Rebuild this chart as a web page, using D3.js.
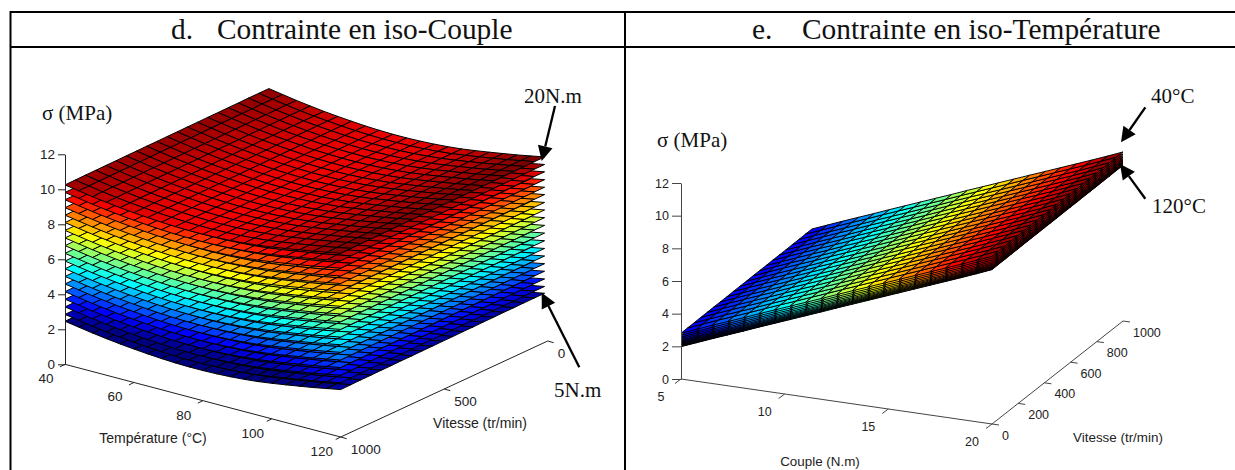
<!DOCTYPE html>
<html><head><meta charset="utf-8">
<style>html,body{margin:0;padding:0;background:#fff}svg{display:block}</style>
<script src="https://cdnjs.cloudflare.com/ajax/libs/d3/7.8.5/d3.min.js"></script>
</head><body><div id="chart"></div>
<script>
// ---------- data ----------
const zTicks = [0, 2, 4, 6, 8, 10, 12];
const titlesD = ["d.", "Contrainte en iso-Couple"];
const titlesE = ["e.", "Contrainte en iso-Température"];

// panel d
const dTempTicks = [40, 60, 80, 100, 120];
const dSpeedTicks = [0, 500, 1000];
const dTemperatures = [40,44,48,52,56,60,64,68,72,76,80,84,88,92,96,100,104,108,112,116,120];
const dSpeeds = [15,64,114,163,212,261,311,360,409,458,508,557,606,655,705,754,803,852,902,951,1000];
const dLevelSigma = [2.46,2.85,3.28,3.72,4.15,4.59,5.02,5.46,5.90,6.34,6.78,7.22,7.65,8.10,8.52,8.95,9.40,9.82,10.25];
const dTempDelta = [0,-0.13,-0.26,-0.37,-0.47,-0.55,-0.62,-0.68,-0.72,-0.74,-0.74,-0.72,-0.68,-0.62,-0.54,-0.43,-0.31,-0.18,-0.05,0.10,0.25];
const dSpeedDelta = [0.10,0.10,0.10,0.09,0.09,0.08,0.08,0.07,0.07,0.06,0.06,0.05,0.05,0.04,0.04,0.03,0.03,0.02,0.02,0.01,0];

// panel e
const eCoupleTicks = [5, 10, 15, 20];
const eSpeedTicks = [0, 200, 400, 600, 800, 1000];
const eCouples = [5,5.75,6.5,7.25,8,8.75,9.5,10.25,11,11.75,12.5,13.25,14,14.75,15.5,16.25,17,17.75,18.5,19.25,20];
const eSpeeds = [0,50,100,150,200,250,300,350,400,450,500,550,600,650,700,750,800,850,900,950,1000];
const eCoupleSigma = [2.80,3.18,3.56,3.93,4.30,4.68,5.05,5.42,5.79,6.16,6.54,6.91,7.28,7.65,8.02,8.39,8.76,9.13,9.50,9.88,10.27];
const eLevelDelta = [-0.82,-0.80,-0.78,-0.76,-0.74,-0.72,-0.70,-0.67,-0.64,-0.60,-0.55,-0.49,-0.42,-0.33,-0.23,-0.12,0];
const eSpeedDelta = [0,0.01,0.01,0.02,0.02,0.03,0.03,0.03,0.04,0.04,0.04,0.05,0.05,0.05,0.06,0.06,0.06,0.07,0.07,0.08,0.08];

// ---------- drawing ----------
const W = 1235, H = 470;
const svg = d3.select("#chart").append("svg").attr("width", W).attr("height", H).attr("viewBox", [0,0,W,H]);
const SERIF = "'Liberation Serif','Times New Roman',serif", SANS = "'Liberation Sans',Arial,sans-serif";

const jetScale = d3.scaleLinear()
  .domain([0, .125, .375, .625, .875, 1])
  .range(["#00007f", "#0000ff", "#00ffff", "#ffff00", "#ff0000", "#7f0000"])
  .interpolate(d3.interpolateRgb).clamp(true);

function panel(o) {
  const g = svg.append("g");
  const ax = d3.scaleLinear().domain(o.aDomain).range([0, o.aVec[0]]);
  const ay = d3.scaleLinear().domain(o.aDomain).range([0, o.aVec[1]]);
  const bx = d3.scaleLinear().domain(o.bDomain).range([0, o.bVec[0]]);
  const by = d3.scaleLinear().domain(o.bDomain).range([0, o.bVec[1]]);
  const z = d3.scaleLinear().domain([0, 12]).range(o.zRange);
  const color = d3.scaleLinear().domain(o.clim).range([0, 1]);
  const P = (a, b, s) => [o.origin[0] + ax(a) + bx(b), ay(a) + by(b) + (s === undefined ? o.origin[1] : z(s))];

  // surface cells, painted from the lowest sheet to the highest
  const cells = [];
  o.levels.forEach((lv, l) => {
    for (let i = 0; i < o.aNodes.length - 1; i++) for (let j = 0; j < o.bNodes.length - 1; j++) {
      const c = [[i,j],[i+1,j],[i+1,j+1],[i,j+1]];
      const pts = c.map(([p,q]) => P(o.aNodes[p], o.bNodes[q], o.sigma(l,p,q)));
      const m = d3.mean(c, ([p,q]) => o.sigma(l,p,q));
      cells.push({pts, m});
    }
  });
  const line = d3.line();
  g.append("g").attr("shape-rendering", o.edgeRendering).selectAll("path").data(cells).join("path")
    .attr("d", d => line(d.pts) + "Z")
    .attr("fill", d => jetScale(color(d.m)))
    .attr("stroke", "#000").attr("stroke-width", o.edge).attr("stroke-linejoin", "round");

  // floor axes
  const ac = o.axisColor;
  const A0 = P(o.aDomain[0], o.aLine), A1 = P(o.aDomain[1], o.aLine);
  const B0 = P(o.bLine, o.bDomain[0]), B1 = P(o.bLine, o.bDomain[1]);
  g.append("line").attr("x1",A0[0]).attr("y1",A0[1]).attr("x2",A1[0]).attr("y2",A1[1]).attr("stroke",ac);
  g.append("line").attr("x1",B0[0]).attr("y1",B0[1]).attr("x2",B1[0]).attr("y2",B1[1]).attr("stroke",ac);
  o.aTicks.forEach(t => {
    const p = P(t, o.aLine);
    g.append("line").attr("x1",p[0]).attr("y1",p[1]).attr("x2",p[0]+o.aTickVec[0]).attr("y2",p[1]+o.aTickVec[1]).attr("stroke",ac);
    g.append("text").attr("x",p[0]+o.aLabel[0]).attr("y",p[1]+o.aLabel[1]).attr("dy","0.36em")
      .attr("text-anchor","middle").attr("font-family",SANS).attr("font-size",o.tickFont).attr("fill","#222").text(t);
  });
  o.bTicks.forEach(t => {
    const p = P(o.bLine, t);
    g.append("line").attr("x1",p[0]).attr("y1",p[1]).attr("x2",p[0]+o.bTickVec[0]).attr("y2",p[1]+o.bTickVec[1]).attr("stroke",ac);
    g.append("text").attr("x",p[0]+o.bLabel[0]).attr("y",p[1]+o.bLabel[1]).attr("dy","0.36em")
      .attr("text-anchor","start").attr("font-family",SANS).attr("font-size",o.tickFont).attr("fill","#222").text(t);
  });

  // vertical axis
  const axis = d3.axisLeft(z).tickValues(zTicks).tickSize(o.zTick).tickPadding(3).tickSizeOuter(0).tickFormat(d3.format("d"));
  const ag = g.append("g").attr("transform", `translate(${o.origin[0]},0)`).call(axis);
  ag.selectAll("text").attr("font-family",SANS).attr("font-size",o.tickFont).attr("fill","#222");
  ag.selectAll("line,path").attr("stroke",ac);

  o.axisTitles.forEach(t => g.append("text").attr("x",t[1]).attr("y",t[2]).attr("dy","0.36em").attr("text-anchor","middle")
    .attr("font-family",SANS).attr("font-size",o.titleFont).attr("fill","#222").text(t[0]));
}

panel({
  origin: [65, 364.3], aDomain: [40,120], aVec: [275.7,72.7], bDomain: [1000,0], bVec: [207,-96],
  zRange: [364.3,154.3], clim: [2.4,10.45], edge: 1, edgeRendering: "auto", axisColor: "#222", tickFont: 13.5, titleFont: 14, zTick: 7,
  aNodes: dTemperatures, bNodes: dSpeeds, levels: dLevelSigma,
  sigma: (l,i,j) => dLevelSigma[l] + dTempDelta[i] + dSpeedDelta[j],
  aTicks: dTempTicks, bTicks: dSpeedTicks, aLine: 1000, bLine: 120,
  aTickVec: [-5,2.5], bTickVec: [6,1.7], aLabel: [-19,14], bLabel: [10,12.5],
  axisTitles: [["Température (°C)",153,438],["Vitesse (tr/min)",480,423]]
});
panel({
  origin: [681, 379], aDomain: [5,20], aVec: [311,45], bDomain: [0,1000], bVec: [131,-103],
  zRange: [379,183], clim: [2.0,10.35], edge: 0.95, edgeRendering: "auto", axisColor: "#444", tickFont: 12.5, titleFont: 13.4, zTick: 9,
  aNodes: eCouples, bNodes: eSpeeds, levels: eLevelDelta,
  sigma: (l,i,j) => eCoupleSigma[i] + eLevelDelta[l] + eSpeedDelta[j],
  aTicks: eCoupleTicks, bTicks: eSpeedTicks, aLine: 0, bLine: 20,
  aTickVec: [-6,4.5], bTickVec: [7,1], aLabel: [-20,17], bLabel: [10,11],
  axisTitles: [["Vitesse (tr/min)",1118,437],["Couple (N.m)",820,461]]
});

// table frame
const rule = (x1,y1,x2,y2) => svg.append("line").attr("x1",x1).attr("y1",y1).attr("x2",x2).attr("y2",y2).attr("stroke","#000").attr("stroke-width",2);
rule(10.5,12,W,12); rule(10.5,47,W,47); rule(10.5,11,10.5,H); rule(625,11,625,H);

// serif text
const serif = (t,x,y,s) => svg.append("text").attr("x",x).attr("y",y).attr("font-family",SERIF).attr("font-size",s).attr("fill","#111").text(t);
serif(titlesD[0],171,39,29.4); serif(titlesD[1],217,39,29.4);
serif(titlesE[0],752,39,29.4); serif(titlesE[1],802,39,29.4);
serif("σ (MPa)",42,120,21); serif("σ (MPa)",657,147,21);
serif("20N.m",524,103,21); serif("5N.m",554,397,21);
serif("40°C",1151,103,21); serif("120°C",1152,213,21);

// arrows
function arrow(x1,y1,x2,y2){
  const a = Math.atan2(y2-y1,x2-x1), L=15, w=7.5;
  const bx = x2-L*Math.cos(a), by = y2-L*Math.sin(a);
  svg.append("line").attr("x1",x1).attr("y1",y1).attr("x2",bx).attr("y2",by).attr("stroke","#000").attr("stroke-width",2.3);
  svg.append("polygon").attr("fill","#000").attr("points",[
    [x2,y2],[bx-w*Math.sin(a),by+w*Math.cos(a)],[bx+w*Math.sin(a),by-w*Math.cos(a)]].join(" "));
}
arrow(555,106,541.7,161); arrow(579.3,367.3,541.7,292.7);
arrow(1145.3,107.3,1121,142.3); arrow(1145.3,198.7,1120,164);
</script></body></html>
